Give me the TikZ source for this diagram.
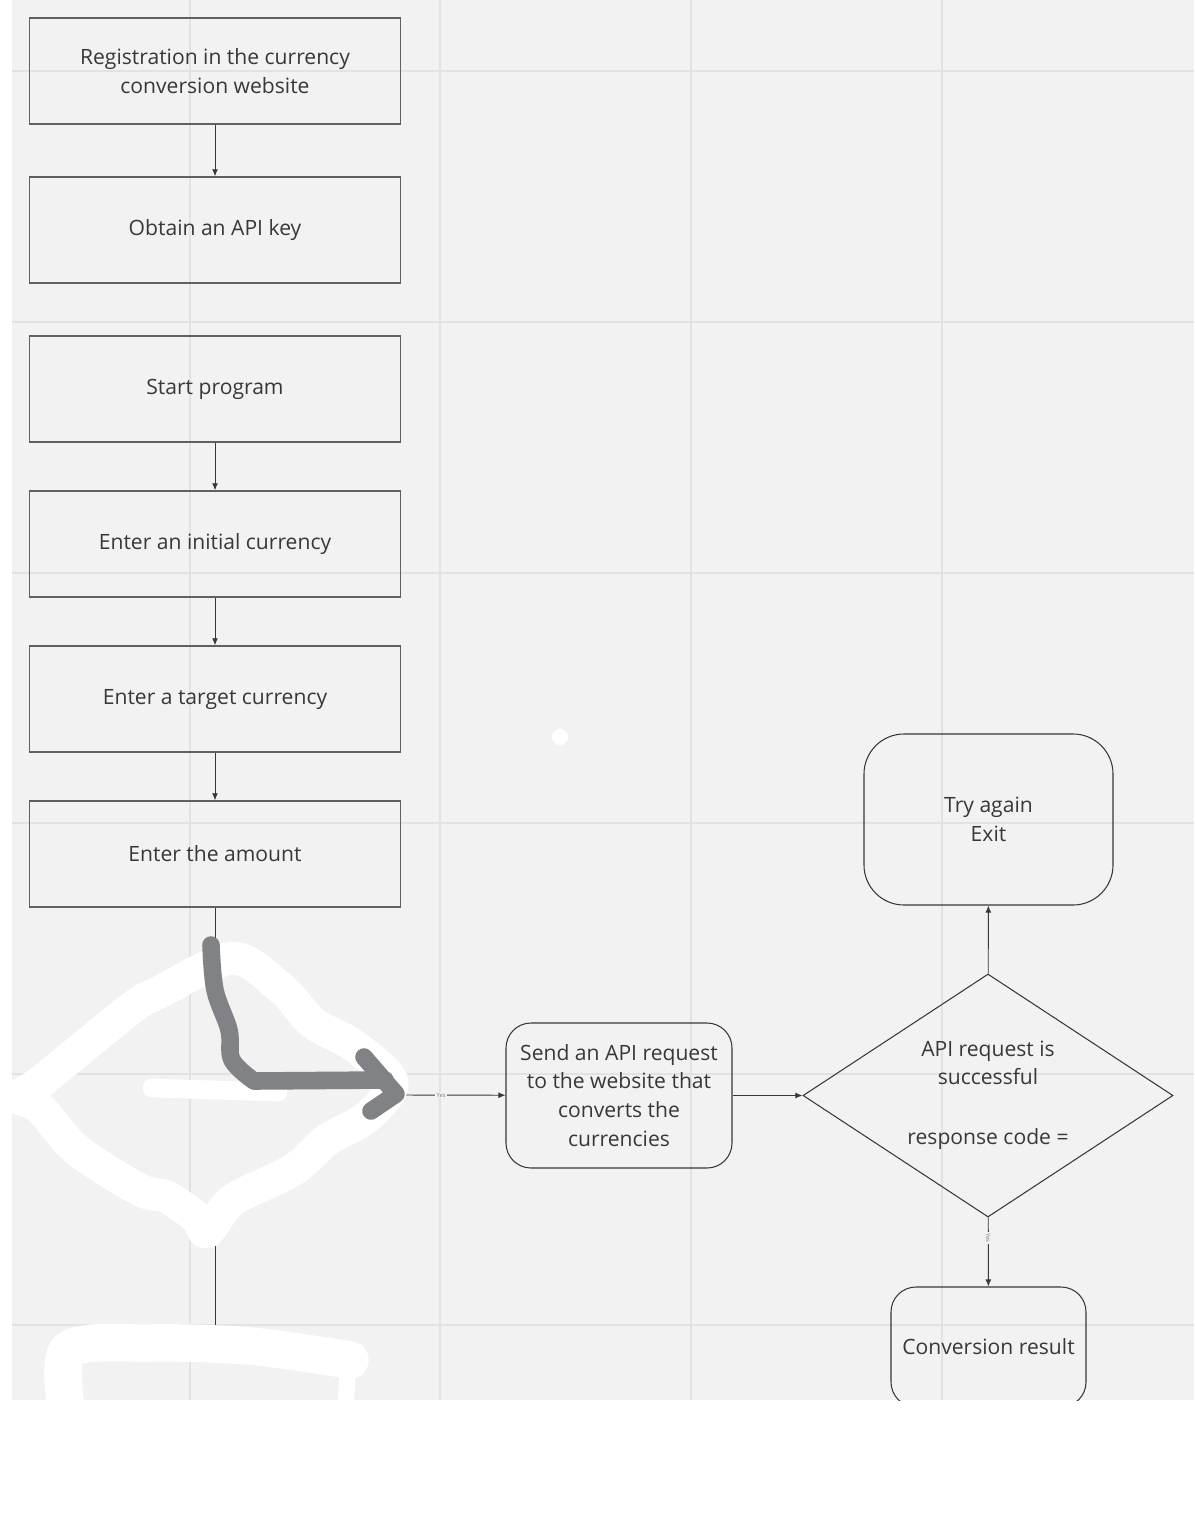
\documentclass[tikz,border=0pt]{standalone}
\usepackage{fontspec}
\setmainfont{Open Sans}
\usetikzlibrary{arrows.meta,shapes.geometric}

\definecolor{boardgrey}{HTML}{F2F2F2}
\definecolor{gridgrey}{HTML}{E2E2E2}
\definecolor{txtgrey}{HTML}{383838}
\definecolor{boxgrey}{HTML}{606060}
\definecolor{pengrey}{HTML}{808285}

\begin{document}
\begin{tikzpicture}[x=0.03cm,y=-0.03cm,
  every node/.style={font=\fontsize{18}{24.7}\selectfont,text=txtgrey,align=center},
  stepbox/.style={rectangle,draw=boxgrey,line width=1.2pt,minimum width=11.13cm,minimum height=3.18cm},
  roundbox/.style={rectangle,draw=txtgrey,line width=0.9pt},
  decision/.style={diamond,draw=txtgrey,line width=0.9pt,inner sep=0pt,minimum width=11.1cm,minimum height=7.29cm},
  flow/.style={draw=txtgrey,line width=0.8pt,-{Latex[length=6pt,width=5pt]}},
  plain/.style={draw=txtgrey,line width=0.8pt},
  yeslabel/.style={font=\fontsize{5}{6}\selectfont,text=gray,fill=boardgrey,inner sep=1pt},
  gridline/.style={draw=gridgrey,line width=1.2pt},
  scribble/.style={draw=white,line width=28pt,line cap=round,line join=round},
  pen/.style={draw=pengrey,line width=15pt,line cap=round,line join=round}]
  \useasboundingbox (0,0) rectangle (1194,1522);

  \begin{scope}
  \clip (12,0) rectangle (1194,1400);
  \fill[boardgrey] (12,0) rectangle (1194,1400);
  \foreach \gx in {190,440,691,942} \draw[gridline] (\gx,0) -- (\gx,1400);
  \foreach \gy in {71,322,573,823,1074,1325} \draw[gridline] (12,\gy) -- (1194,\gy);

  \node (reg) [stepbox] at (215,71) {Registration in the currency\\conversion website};
  \node (key) [stepbox] at (215,230) {Obtain an API key};

  \node (start) [stepbox] at (215,389) {Start program};
  \node (from) [stepbox] at (215,544) {Enter an initial currency};
  \node (to) [stepbox] at (215,699) {Enter a target currency};
  \node (amt) [stepbox] at (215,854) {Enter the amount};

  % hidden check under the scribbles
  \coordinate (chkin) at (215,1000);
  \coordinate (chkright) at (405,1095);
  \coordinate (chkdown) at (215,1240);
  \coordinate (hidbox) at (215,1347);

  \node (send) [roundbox,minimum width=6.78cm,minimum height=4.35cm,rounded corners=0.75cm] at (619,1095.5) {Send an API request\\to the website that\\converts the\\currencies};
  \node (ok) [decision] at (988,1095.5) {};
  \node (oktext) at (988,1095) {API request is\\successful\\[26pt]response code =};
  \node (retry) [roundbox,minimum width=7.47cm,minimum height=5.13cm,rounded corners=1.2cm] at (988.5,819.5) {Try again\\Exit};
  \node (result) [roundbox,minimum width=5.85cm,minimum height=3.6cm,rounded corners=0.75cm] at (988.5,1347) {Conversion result};

  \draw[flow] (reg) -- (key);
  \draw[flow] (start) -- (from);
  \draw[flow] (from) -- (to);
  \draw[flow] (to) -- (amt);
  \draw[plain] (amt) -- (chkin);
  \draw[flow] (chkright) -- node[yeslabel,pos=0.36] {Yes} (send);
  \draw[flow] (send) -- (ok);
  \draw[flow] (ok) -- (retry);
  \draw[flow] (ok) -- node[yeslabel,rotate=-90,pos=0.3] {Yes} (result);
  \draw[flow] (chkdown) -- (hidbox);

  % white scribbles
  \draw[scribble] plot[smooth cycle,tension=0.5] coordinates {(233,958) (283,990) (313,1023) (353,1045) (392,1082) (367,1117) (327,1140) (293,1170) (233,1200) (207,1232) (197,1218) (167,1197) (140,1190) (77,1150) (40,1108) (20,1097) (43,1080) (133,1007) (160,992)};
  \draw[scribble,line width=16pt] (152,1088) -- (278,1092);
  \draw[scribble,line width=32pt] plot[smooth,tension=0.5] coordinates {(68,1420) (68,1350) (150,1343) (250,1346) (350,1360)};
  \draw[scribble,line width=14pt] (348,1362) -- (345,1420);
  \fill[white] (560,737) circle[radius=0.24cm];

  % grey pen arrow
  \draw[pen] plot[smooth,tension=0.6] coordinates {(211,945) (215,990) (229,1030) (232,1060) (254,1081)} -- (385,1080);
  \draw[pen] (364,1057) -- (396,1094) -- (371,1111);
  \end{scope}
\end{tikzpicture}
\end{document}
